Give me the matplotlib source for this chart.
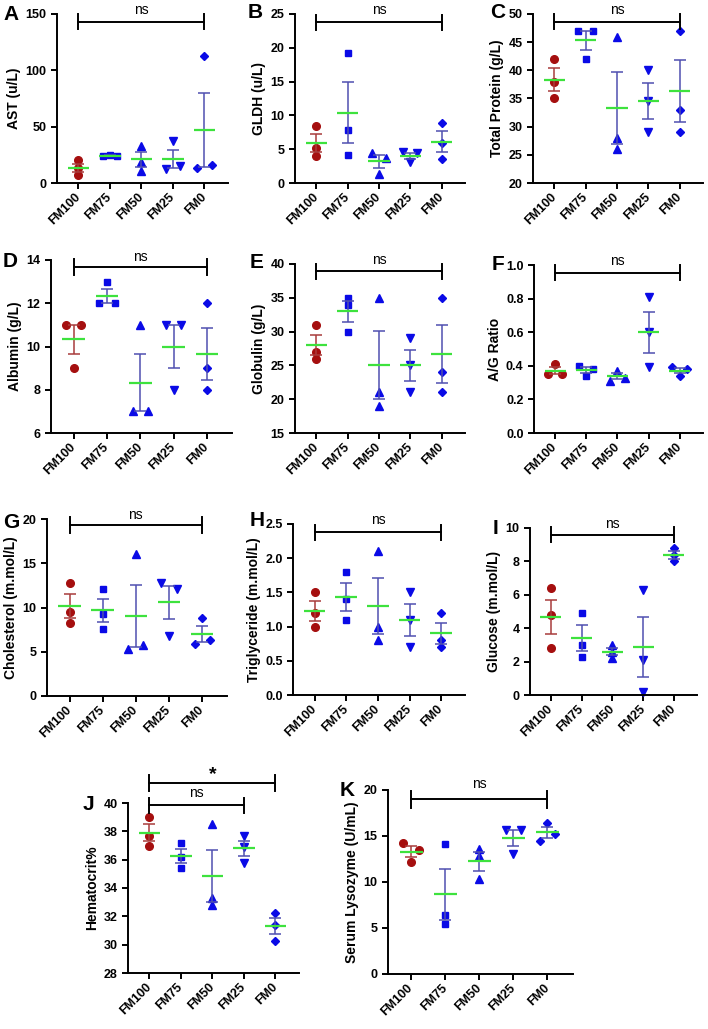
import numpy as np
import matplotlib.pyplot as plt

plt.rcParams['font.family'] = ['Liberation Sans', 'DejaVu Sans']
plt.rcParams['font.weight'] = 'bold'
plt.rcParams['axes.labelweight'] = 'bold'

groups = ["FM100", "FM75", "FM50", "FM25", "FM0"]

# three fish per group
ast = [[20, 13, 7], [24, 25, 24], [33, 19, 11], [37, 12, 15], [13, 16, 113]]
gldh = [[8.4, 5.2, 4.0], [19.2, 7.9, 4.1], [4.5, 3.7, 1.4], [4.6, 4.4, 3.1], [8.9, 5.9, 3.5]]
total_protein = [[42, 38, 35], [47, 47, 42], [46, 28, 26], [40, 34.5, 29], [47, 33, 29]]
albumin = [[11, 11, 9], [13, 12, 12], [11, 7, 7], [11, 11, 8], [12, 9, 8]]
globulin = [[31, 27, 26], [35, 34, 30], [35, 21, 19], [29, 25, 21], [35, 24, 21]]
ag_ratio = [[0.41, 0.35, 0.35], [0.40, 0.38, 0.34], [0.37, 0.31, 0.33], [0.81, 0.60, 0.39], [0.39, 0.38, 0.34]]
cholesterol = [[12.8, 9.5, 8.2], [12.1, 9.3, 7.6], [16, 5.3, 5.8], [12.8, 12.1, 6.8], [8.8, 5.9, 6.3]]
triglyceride = [[1.5, 1.2, 1.0], [1.8, 1.4, 1.1], [2.1, 1.0, 0.8], [1.5, 1.1, 0.7], [1.2, 0.8, 0.7]]
glucose = [[6.4, 4.8, 2.8], [4.9, 3.0, 2.3], [3.0, 2.6, 2.2], [6.3, 2.1, 0.2], [8.8, 8.4, 8.0]]
hematocrit = [[39, 37.7, 37], [37.2, 36.2, 35.4], [38.5, 33.3, 32.8], [37.7, 36.9, 35.8], [32.25, 31.4, 30.27]]
lysozyme = [[14.2, 13.5, 12.2], [14.1, 6.4, 5.46], [13.6, 12.8, 10.3], [15.6, 15.6, 13.06], [14.5, 15.2, 16.45]]

W, H = 708, 1029
RED = "#a50f0f"
BLUE = "#0a0ae6"
GREEN = "#3de23d"
ERR_RED = "#a83c3c"
ERR_BLUE = "#4f4fb0"
markers = ['o', 's', '^', 'v', 'D']
msizes = [5.5, 5, 6, 6, 4.5]


def spread(vals, thr, step=0.23):
    # side-by-side offsets for points that would overlap
    vals = np.asarray(vals, float)
    order = np.argsort(vals, kind='stable')
    offs = np.zeros(len(vals))
    clusters = [[order[0]]]
    for k in order[1:]:
        if vals[k] - vals[clusters[-1][-1]] < thr:
            clusters[-1].append(k)
        else:
            clusters.append([k])
    for c in clusters:
        c = sorted(c)
        n = len(c)
        for j, k in enumerate(c):
            offs[k] = (j - (n - 1) / 2) * step * (2 if n == 2 else 1)
    return offs


def px_axes(fig, l, t, r, b):
    return fig.add_axes([l / W, 1 - b / H, (r - l) / W, (b - t) / H])


def bracket(ax, i0, i1, yf, text, tf, fs=10, weight='normal'):
    tr = ax.get_xaxis_transform()
    ax.plot([i0, i1], [yf, yf], color='black', lw=1.4, transform=tr, clip_on=False)
    for i in (i0, i1):
        ax.plot([i, i], [yf - 0.045, yf + 0.045], color='black', lw=1.4,
                transform=tr, clip_on=False)
    ax.text((i0 + i1) / 2, tf, text, transform=tr, ha='center', va='center',
            fontsize=fs, fontweight=weight)


panels = [
    ("A", "AST (u/L)", ast, (0, 150), [0, 50, 100, 150], "%d", (57, 14, 228, 183), (3, 14),
     [(0, 4, 0.955, "ns", 1.024)]),
    ("B", "GLDH (u/L)", gldh, (0, 25), [0, 5, 10, 15, 20, 25], "%d", (295, 14, 465, 183), (248, 12),
     [(0, 4, 0.95, "ns", 1.024)]),
    ("C", "Total Protein (g/L)", total_protein, (20, 50), [20, 25, 30, 35, 40, 45, 50], "%d",
     (533, 14, 703, 183), (490, 13), [(0, 4, 0.955, "ns", 1.024)]),
    ("D", "Albumin (g/L)", albumin, (6, 14), [6, 8, 10, 12, 14], "%d", (51, 260, 232, 433), (3, 262),
     [(0, 4, 0.958, "ns", 1.02)]),
    ("E", "Globulin (g/L)", globulin, (15, 40), [15, 20, 25, 30, 35, 40], "%d", (295, 264, 465, 433),
     (250, 263), [(0, 4, 0.957, "ns", 1.024)]),
    ("F", "A/G Ratio", ag_ratio, (0, 1.0), [0, 0.2, 0.4, 0.6, 0.8, 1.0], "%.1f", (534, 265, 703, 433),
     (492, 264), [(0, 4, 0.954, "ns", 1.024)]),
    ("G", "Cholesterol (m.mol/L)", cholesterol, (0, 20), [0, 5, 10, 15, 20], "%d", (47, 519, 227, 696),
     (3, 522), [(0, 4, 0.968, "ns", 1.02)]),
    ("H", "Triglyceride (m.mol/L)", triglyceride, (0, 2.5), [0, 0.5, 1.0, 1.5, 2.0, 2.5], "%.1f",
     (293, 524, 465, 695), (250, 521), [(0, 4, 0.951, "ns", 1.022)]),
    ("I", "Glucose (m.mol/L)", glucose, (0, 10), [0, 2, 4, 6, 8, 10], "%d", (530, 528, 697, 695),
     (493, 528), [(0, 4, 0.96, "ns", 1.026)]),
    ("J", "Hematocrit%", hematocrit, (28, 40), [28, 30, 32, 34, 36, 38, 40], "%d", (128, 803, 299, 973),
     (83, 804), [(0, 3, 0.986, "ns", 1.058)]),
    ("K", "Serum Lysozyme (U/mL)", lysozyme, (0, 20), [0, 5, 10, 15, 20], "%d", (388, 790, 573, 974),
     (340, 790), [(0, 4, 0.949, "ns", 1.03)]),
]

fig = plt.figure(figsize=(W / 100, H / 100), dpi=100)

for letter, ylabel, data, ylim, yticks, fmt, rect, lpos, bars in panels:
    ax = px_axes(fig, *rect)
    thr = 0.037 * (ylim[1] - ylim[0])
    for i, vals in enumerate(data):
        vals = np.asarray(vals, float)
        col = RED if i == 0 else BLUE
        ecol = ERR_RED if i == 0 else ERR_BLUE
        xs = i + spread(vals, thr)
        ax.plot(xs, vals, linestyle='none', marker=markers[i], ms=msizes[i],
                color=col, mec=col, zorder=2, clip_on=False)
        m = vals.mean()
        sem = vals.std(ddof=1) / np.sqrt(len(vals))
        ax.errorbar(i, m, yerr=sem, fmt='none', ecolor=ecol, elinewidth=1.1,
                    capsize=4, capthick=1.1, zorder=3)
        ax.hlines(m, i - 0.34, i + 0.34, color=GREEN, lw=1.6, zorder=4)

    ax.set_xlim(-0.68, 4.75)
    ax.set_ylim(*ylim)
    ax.set_yticks(yticks)
    ax.set_yticklabels([fmt % v for v in yticks])
    ax.set_xticks(range(len(groups)))
    ax.set_xticklabels(groups, rotation=45, ha='right', va='center', rotation_mode='anchor')
    ax.tick_params(axis='both', labelsize=9, width=1.4, length=4, direction='out')
    ax.tick_params(axis='x', pad=5)
    for s in ('top', 'right'):
        ax.spines[s].set_visible(False)
    for s in ('left', 'bottom'):
        ax.spines[s].set_linewidth(1.4)
    ax.set_ylabel(ylabel, fontsize=10, fontweight='bold', labelpad=3)

    for i0, i1, yf, txt, tf in bars:
        bracket(ax, i0, i1, yf, txt, tf)
    if letter == "J":
        bracket(ax, 0, 4, 1.117, "*", 1.17, fs=14, weight='bold')

    fig.text(lpos[0] / W, 1 - lpos[1] / H, letter, fontsize=15, fontweight='bold',
             ha='left', va='center')

fig.savefig("out.png", dpi=100)
